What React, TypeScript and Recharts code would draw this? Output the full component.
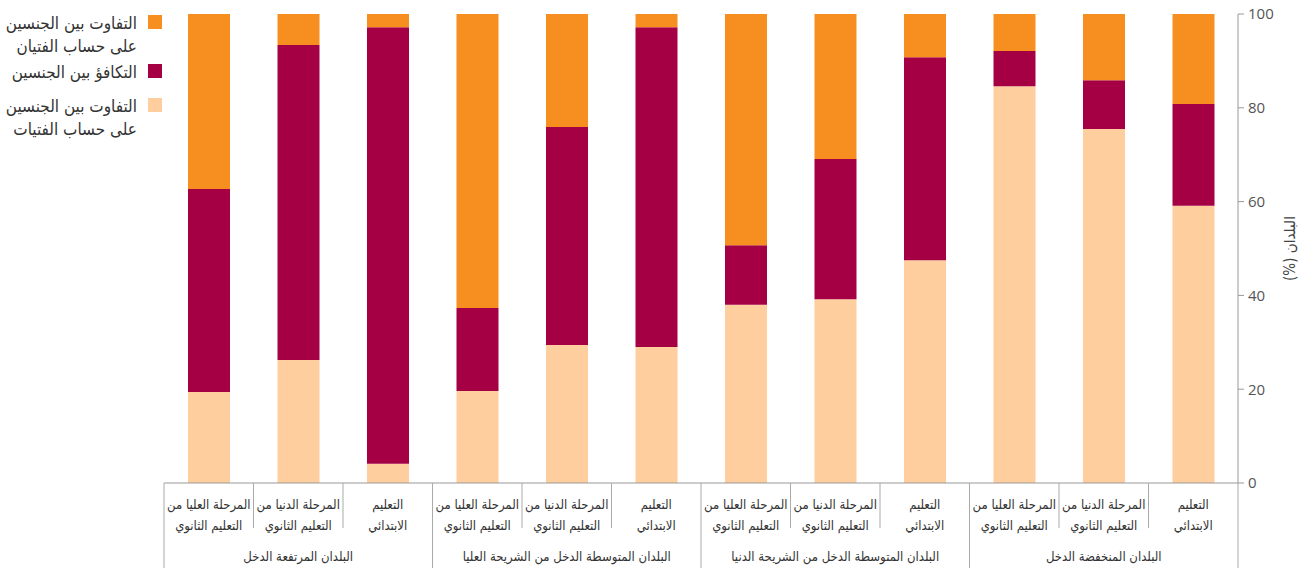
import React from 'react';
import { BarChart, Bar, XAxis, YAxis } from 'recharts';

// Education levels (two display lines each), in logical (right-to-left) order
const levelLines: string[][] = [
  ['التعليم', 'الابتدائي'],
  ['المرحلة الدنيا من', 'التعليم الثانوي'],
  ['المرحلة العليا من', 'التعليم الثانوي'],
];

// Income groups, in logical (right-to-left) order
const incomeGroups: string[] = [
  'البلدان المنخفضة الدخل',
  'البلدان المتوسطة الدخل من الشريحة الدنيا',
  'البلدان المتوسطة الدخل من الشريحة العليا',
  'البلدان المرتفعة الدخل',
];

// Series values (% of countries), logical order: group by group, level by level
const girlsDisadvantage: number[] = [59.1, 75.5, 84.6, 47.5, 39.2, 38.0, 29.0, 29.4, 19.6, 4.1, 26.2, 19.4];
const genderParity: number[] = [21.7, 10.4, 7.5, 43.3, 29.9, 12.7, 68.2, 46.5, 17.7, 93.1, 67.2, 43.3];
const boysDisadvantage: number[] = [19.2, 14.1, 7.9, 9.2, 30.9, 49.3, 2.8, 24.1, 62.7, 2.8, 6.6, 37.3];

const yTicks: number[] = [0, 20, 40, 60, 80, 100];
const yAxisTitle = 'البلدان (%)';

const seriesNames = {
  girls: ['التفاوت بين الجنسين', 'على حساب الفتيات'],
  parity: ['التكافؤ بين الجنسين'],
  boys: ['التفاوت بين الجنسين', 'على حساب الفتيان'],
};

const COLORS = {
  girls: '#FECE9E',
  parity: '#A50044',
  boys: '#F68F1F',
};

const data = girlsDisadvantage.map((g, i) => ({
  key: `c${i}`,
  group: Math.floor(i / 3),
  level: i % 3,
  girls: g,
  parity: genderParity[i],
  boys: boysDisadvantage[i],
}));

const FONT = "'Open Sans', 'DejaVu Sans', sans-serif";
const AR_FONT = "'DejaVu Sans Condensed', 'DejaVu Sans', sans-serif";
const SEP = '#aaaaaa';

const CategoryTick = (props: any) => {
  const { x, y, payload } = props;
  const d = data.find((e) => e.key === payload.value);
  if (!d) return null;
  const off = payload.offset ?? 44.7;
  const lines = levelLines[d.level];
  const groupStartLeft = d.level === 2;
  const tp = { textAnchor: 'middle' as const, dominantBaseline: 'central' as const, fontSize: 13, fill: '#333', fontFamily: AR_FONT };
  return (
    <g>
      <line x1={x - off} x2={x - off} y1={y} y2={groupStartLeft ? y + 85 : y + 45} stroke={SEP} />
      {d.group === 0 && d.level === 0 && (
        <line x1={x + off} x2={x + off} y1={y} y2={y + 85} stroke={SEP} />
      )}
      <text x={x} y={y + 21} {...tp}>{lines[0]}</text>
      <text x={x} y={y + 42} {...tp}>{lines[1]}</text>
      {d.level === 1 && (
        <text x={x} y={y + 73} {...tp}>{incomeGroups[d.group]}</text>
      )}
    </g>
  );
};

const YTitle = (props: any) => {
  const vb = props.viewBox || {};
  const cx = (vb.x ?? 1238) + 52;
  const cy = (vb.y ?? 14) + (vb.height ?? 469) / 2;
  return (
    <text
      x={cx}
      y={cy}
      transform={`rotate(-90, ${cx}, ${cy})`}
      textAnchor="middle"
      dominantBaseline="central"
      fontSize={15}
      fill="#444"
      fontFamily={AR_FONT}
      style={{ direction: 'rtl' } as any}
    >
      {yAxisTitle}
    </text>
  );
};

const legendItems = [
  { key: 'boys', top: 13 },
  { key: 'parity', top: 62 },
  { key: 'girls', top: 96 },
] as const;

const ChartLegend = () => (
  <div style={{ position: 'absolute', left: 0, top: 0, width: 170, height: 150, fontFamily: AR_FONT }}>
    {legendItems.map((it) => (
      <div key={it.key} style={{ position: 'absolute', top: it.top, left: 0, width: 170 }}>
        <div
          style={{
            position: 'absolute',
            left: 148,
            top: 2,
            width: 14,
            height: 14,
            background: (COLORS as any)[it.key],
          }}
        />
        <div
          style={{
            position: 'absolute',
            right: 33,
            top: -1,
            direction: 'rtl',
            textAlign: 'right',
            fontSize: 17,
            lineHeight: '23px',
            color: '#333',
            whiteSpace: 'nowrap',
          }}
        >
          {(seriesNames as any)[it.key].map((l: string, i: number) => (
            <div key={i}>{l}</div>
          ))}
        </div>
      </div>
    ))}
  </div>
);

export default function App() {
  return (
    <div style={{ position: 'absolute', left: 0, top: 0, width: 1305, height: 568, fontFamily: FONT, background: '#fff' }}>
      <BarChart width={1305} height={568} data={data} margin={{ top: 14, right: 7, bottom: 0, left: 164 }}>
        <XAxis
          dataKey="key"
          type="category"
          reversed
          interval={0}
          height={85}
          tickLine={false}
          tickSize={0}
          tickMargin={0}
          axisLine={{ stroke: '#999' }}
          tick={<CategoryTick />}
        />
        <YAxis
          orientation="right"
          domain={[0, 100]}
          ticks={yTicks}
          width={60}
          tickSize={6}
          tickMargin={4}
          axisLine={{ stroke: '#999' }}
          tickLine={{ stroke: '#999' }}
          tick={{ fill: '#555', fontSize: 15 }}
          label={<YTitle />}
        />
        <Bar dataKey="girls" stackId="a" fill={COLORS.girls} barSize={42} isAnimationActive={false} name={seriesNames.girls.join(' ')} />
        <Bar dataKey="parity" stackId="a" fill={COLORS.parity} barSize={42} isAnimationActive={false} name={seriesNames.parity.join(' ')} />
        <Bar dataKey="boys" stackId="a" fill={COLORS.boys} barSize={42} isAnimationActive={false} name={seriesNames.boys.join(' ')} />
      </BarChart>
      <ChartLegend />
    </div>
  );
}
